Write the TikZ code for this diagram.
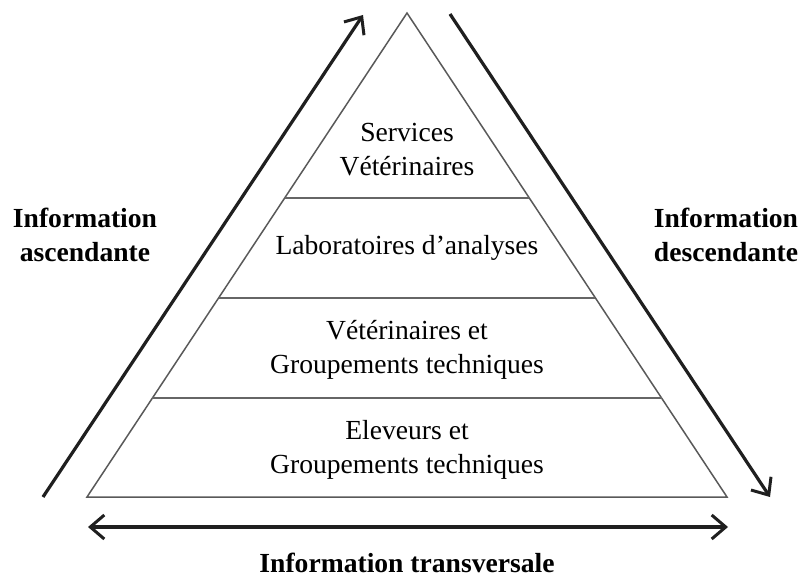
\documentclass[tikz,border=0pt]{standalone}
\usepackage{fontspec}
\setmainfont{Liberation Serif}
\usetikzlibrary{calc,arrows.meta}
\begin{document}
\begin{tikzpicture}[x=1pt,y=-1pt,
  edge/.style={draw=black!65,line width=1.5pt},
  divider/.style={draw=black!60,line width=1.9pt},
  barb/.tip={Straight Barb[length=14pt,width=24pt,line width=3pt]},
  flow/.style={draw=black!88,line width=3.2pt,arrows={-barb}},
  layer/.style={align=center,font=\fontsize{27.6}{34}\selectfont,inner sep=0pt},
  side/.style={align=center,font=\fontsize{27.6}{34}\selectfont\bfseries,inner sep=0pt}]
\useasboundingbox (0,0) rectangle (803,577);
% pyramid outline
\coordinate (A) at (407,13);
\coordinate (L) at (87,497);
\coordinate (R) at (727,497);
\draw[edge,line join=miter] (L) -- (A) -- (R) -- cycle;
% horizontal levels
\foreach \t/\n in {0.3822/one,0.5888/two,0.7955/three}{
  \draw[divider] ($(A)!\t!(L)$) coordinate (l\n) -- ($(A)!\t!(R)$) coordinate (r\n);
}
% level labels
\node[layer] (svc) at (407,150) {Services\\Vétérinaires};
\node[layer] (lab) at (407,248) {Laboratoires d’analyses};
\node[layer] (vet) at (407,350) {Vétérinaires et\\Groupements techniques};
\node[layer] (elev) at (407,450) {Eleveurs et\\Groupements techniques};
% information flows
\coordinate (ascA) at (43,497);
\coordinate (ascB) at (363,15);
\coordinate (descA) at (450,14);
\coordinate (descB) at (770,497);
\coordinate (trA) at (88,527);
\coordinate (trB) at (728,527);
\draw[flow] (ascA) -- (ascB);
\draw[flow] (descA) -- (descB);
\draw[flow,arrows={barb-barb}] (trA) -- (trB);
\node[side] (asc) at (85,235) {Information\\ascendante};
\node[side] (desc) at (726,235) {Information\\descendante};
\node[side] (tr) at (407,563) {Information transversale};
\end{tikzpicture}
\end{document}
